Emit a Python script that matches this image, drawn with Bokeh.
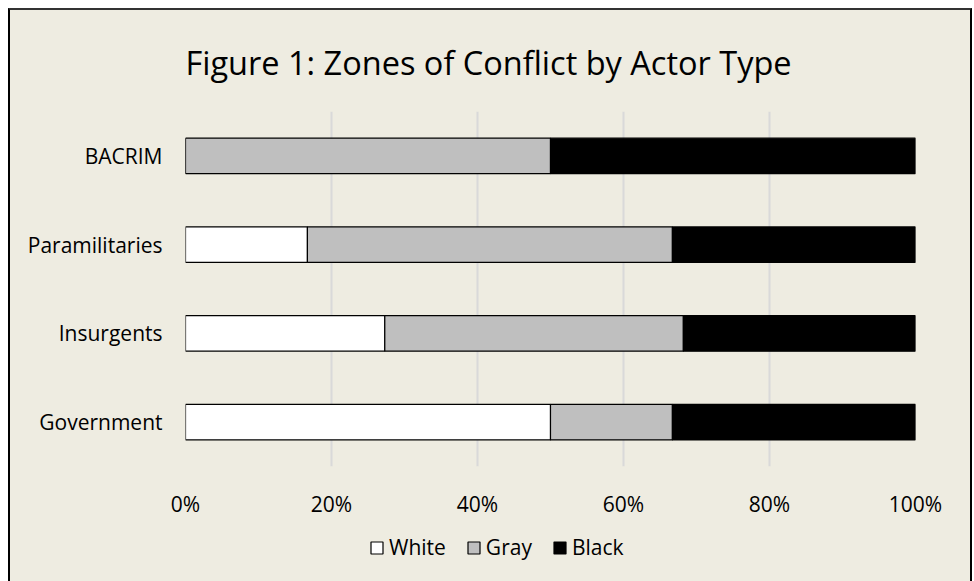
from bokeh.plotting import figure
from bokeh.layouts import column
from bokeh.models import (FactorRange, Range1d, FixedTicker, NumeralTickFormatter,
                          Legend, LegendItem)
from bokeh.embed import file_html
from bokeh.resources import INLINE

categories = ["Government", "Insurgents", "Paramilitaries", "BACRIM"]
series = ["White", "Gray", "Black"]
white = [0.50, 0.273, 0.167, 0.0]
gray = [0.167, 0.409, 0.50, 0.50]
black = [0.333, 0.318, 0.333, 0.50]
colors = ["#FFFFFF", "#BFBFBF", "#000000"]
ticks = [0, 0.2, 0.4, 0.6, 0.8, 1.0]

FONT = "Open Sans"
BG = "#EEECE1"

data = {"cat": categories, "White": white, "Gray": gray, "Black": black}

p = figure(y_range=FactorRange(*categories), x_range=Range1d(0, 1),
           width=964, height=522, output_backend="svg", toolbar_location=None,
           min_border_left=175, min_border_right=59, min_border_top=100,
           min_border_bottom=66)
p.background_fill_color = None
p.border_fill_color = BG
p.outline_line_color = None
p.styles = {"border-left": "2px solid #000", "border-top": "2px solid #333",
            "border-right": "2px solid #000"}

p.hbar_stack(series, y="cat", height=0.4, color=colors,
             line_color="#000000", line_width=1.2, source=data)

p.title.text = "Figure 1: Zones of Conflict by Actor Type"
p.title.text_font = FONT
p.title.text_font_size = "32.5px"
p.title.text_font_style = "normal"
p.title.text_color = "#000000"
p.title.align = "left"
p.title.offset = 0
p.title.standoff = 54

p.xaxis.ticker = FixedTicker(ticks=ticks)
p.xaxis.formatter = NumeralTickFormatter(format="0%")
for ax in (p.xaxis[0], p.yaxis[0]):
    ax.axis_line_color = None
    ax.major_tick_line_color = None
    ax.minor_tick_line_color = None
    ax.major_label_text_font = FONT
    ax.major_label_text_font_size = "21px"
    ax.major_label_text_color = "#000000"
p.xaxis.major_label_standoff = 17
p.yaxis.major_label_standoff = 17

p.xgrid.grid_line_color = "#D9D9D9"
p.xgrid.grid_line_width = 2
p.ygrid.grid_line_color = None

# legend strip below the chart: its y range holds no actor category, so the
# proxy bars (same data) are not drawn and only their legend swatches appear
p2 = figure(y_range=FactorRange("legend"), x_range=Range1d(0, 1),
            width=964, height=51, output_backend="svg", toolbar_location=None,
            min_border=0)
p2.background_fill_color = None
p2.border_fill_color = BG
p2.outline_line_color = None
p2.axis.visible = False
p2.grid.visible = False
p2.styles = {"border-left": "2px solid #000", "border-right": "2px solid #000"}

proxies = p2.hbar_stack(series, y="cat", height=0.4, color=colors,
                        line_color="#000000", line_width=1.2, source=data)

legend = Legend(items=[LegendItem(label=s, renderers=[r]) for s, r in zip(series, proxies)],
                orientation="horizontal", location=(184, 20))
legend.background_fill_alpha = 0
legend.border_line_color = None
legend.label_text_font = FONT
legend.label_text_font_size = "21px"
legend.label_text_color = "#000000"
legend.glyph_width = 15
legend.glyph_height = 15
legend.label_standoff = 5
legend.spacing = 20
legend.padding = 0
legend.margin = 0
p2.add_layout(legend, "center")

layout = column(p, p2, spacing=0)
layout.margin = (8, 0, 0, 8)
layout.styles = {"background-color": BG}

open("out.html", "w").write(file_html(layout, INLINE))
